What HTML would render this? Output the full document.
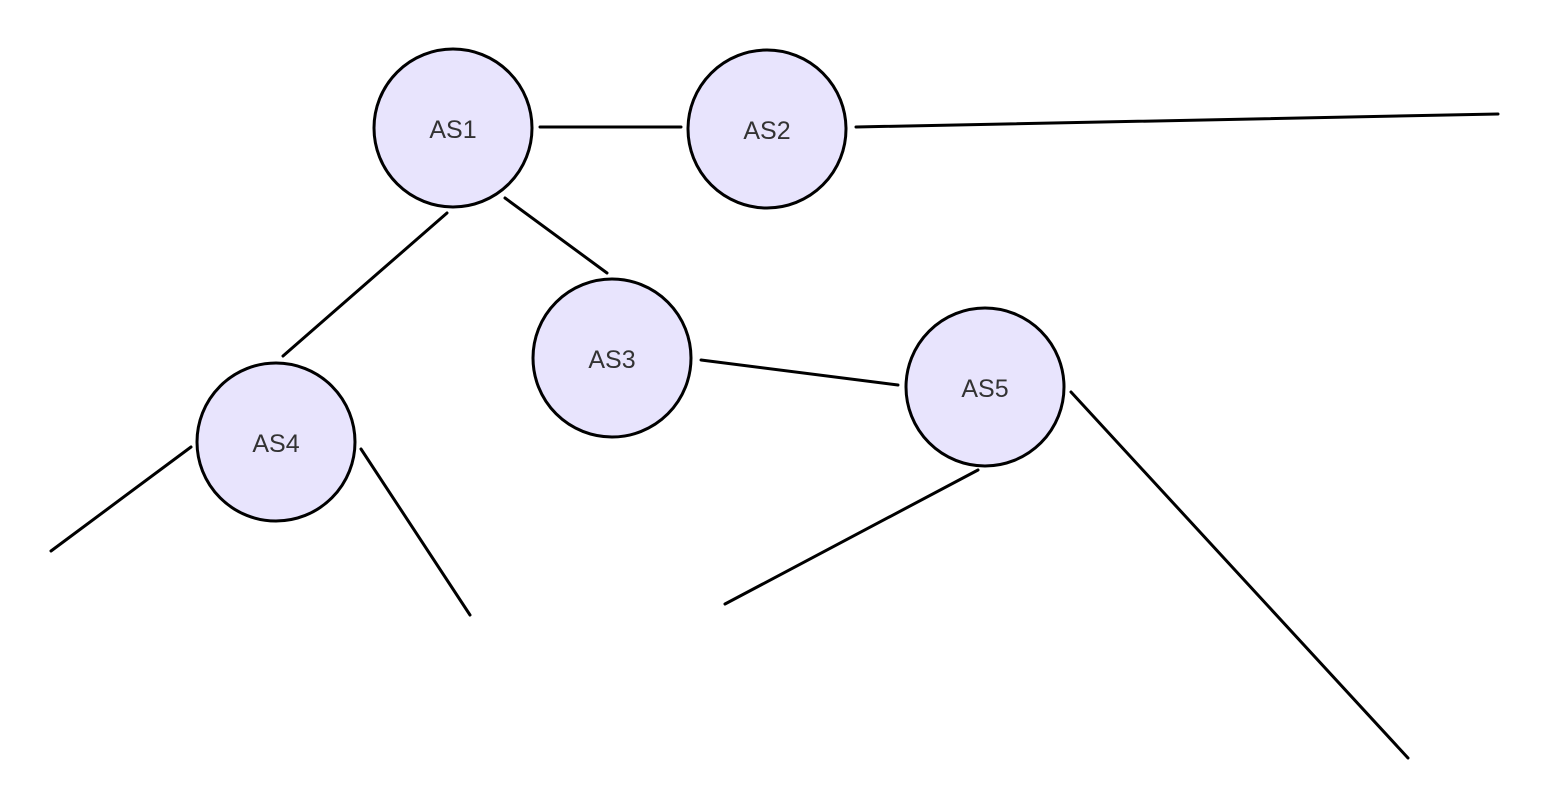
<!DOCTYPE html>
<html><head><style>body{margin:0;background:#fff}svg{display:block}</style></head><body>
<svg width="1550" height="812" viewBox="0 0 1550 812" xmlns="http://www.w3.org/2000/svg">
<g stroke="#000" stroke-width="3" stroke-linecap="round" fill="none">
<line x1="540" y1="127" x2="681" y2="127"/>
<line x1="856" y1="127" x2="1498" y2="114"/>
<line x1="447" y1="213" x2="283" y2="356"/>
<line x1="505" y1="198" x2="607" y2="273"/>
<line x1="701" y1="360" x2="898" y2="385"/>
<line x1="191" y1="447" x2="51" y2="551"/>
<line x1="361" y1="449" x2="470" y2="615"/>
<line x1="978" y1="470" x2="725" y2="604"/>
<line x1="1071" y1="392" x2="1408" y2="758"/>
</g>
<g fill="#e8e4fd" stroke="#000" stroke-width="3">
<circle cx="453" cy="128" r="79"/>
<circle cx="767" cy="129" r="79"/>
<circle cx="612" cy="358" r="79"/>
<circle cx="276" cy="442" r="79"/>
<circle cx="985" cy="387" r="79"/>
</g>
<g font-family="Liberation Sans, sans-serif" font-size="25" fill="#333" text-anchor="middle">
<text x="453" y="138">AS1</text>
<text x="767" y="139">AS2</text>
<text x="612" y="368">AS3</text>
<text x="276" y="452">AS4</text>
<text x="985" y="397">AS5</text>
</g>
</svg>
</body></html>
